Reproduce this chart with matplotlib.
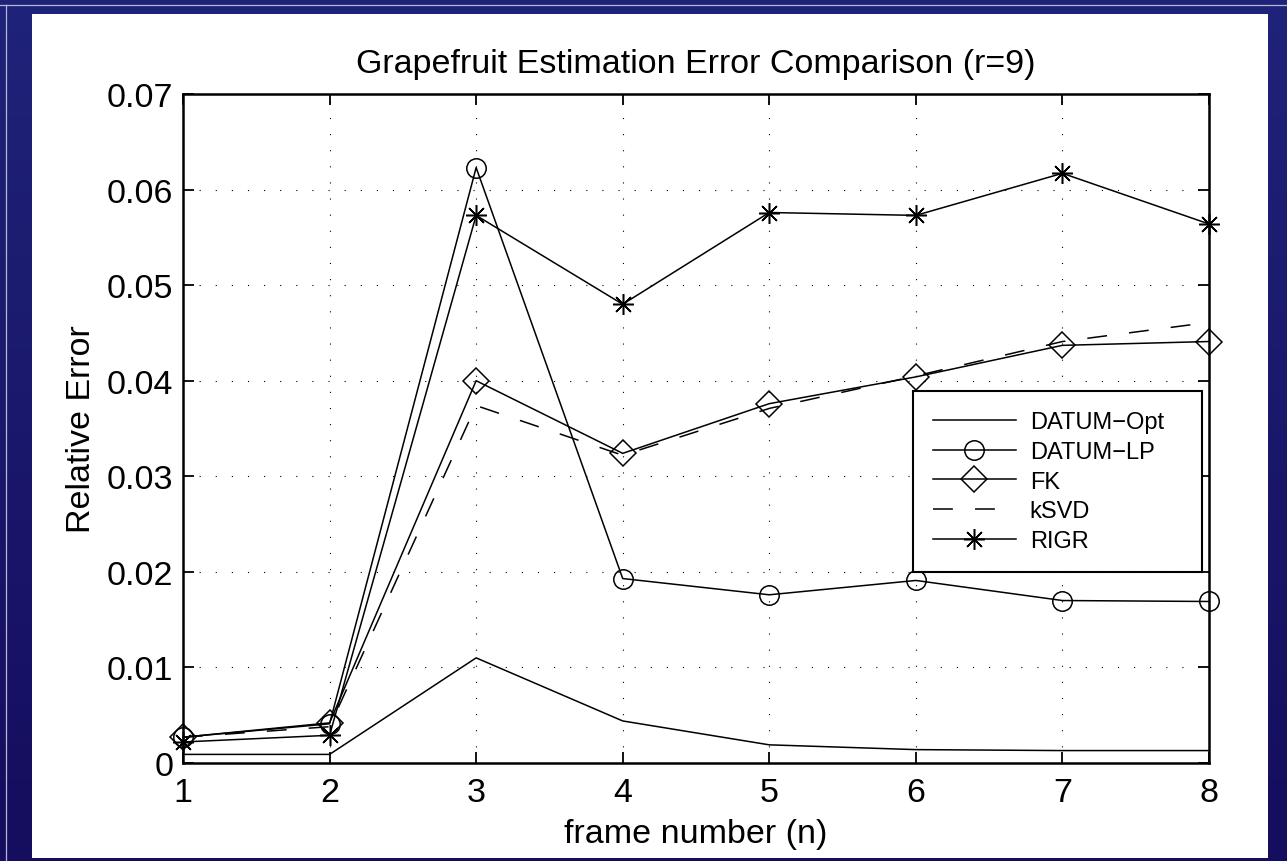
import numpy as np
import matplotlib
matplotlib.use('Agg')
import matplotlib.pyplot as plt
from matplotlib.patches import Rectangle
from matplotlib.lines import Line2D
from matplotlib.colors import LinearSegmentedColormap

plt.rcParams['font.family'] = ['Liberation Sans', 'DejaVu Sans']

frames = [1, 2, 3, 4, 5, 6, 7, 8]
datum_opt = [0.0009, 0.0009, 0.0110, 0.0044, 0.0019, 0.0014, 0.0013, 0.0013]
datum_lp = [0.0027, 0.0041, 0.0623, 0.0193, 0.0176, 0.0191, 0.0170, 0.0169]
fk = [0.0027, 0.0042, 0.0400, 0.0324, 0.0376, 0.0404, 0.0437, 0.0441]
ksvd = [0.0027, 0.0038, 0.0374, 0.0322, 0.0371, 0.0405, 0.0441, 0.0461]
rigr = [0.0022, 0.0029, 0.0573, 0.0480, 0.0576, 0.0573, 0.0617, 0.0564]
yticks = [0, 0.01, 0.02, 0.03, 0.04, 0.05, 0.06, 0.07]
ytick_labels = ['0', '0.01', '0.02', '0.03', '0.04', '0.05', '0.06', '0.07']

W, H = 1287, 862
fig = plt.figure(figsize=(W / 100, H / 100), dpi=100)

# dark blue slide background
bg = fig.add_axes([0, 0, 1, 1], zorder=-10)
grad = np.linspace(0, 1, 256).reshape(-1, 1)
cmap = LinearSegmentedColormap.from_list('bg', ['#1f2379', '#150d5e'])
bg.imshow(grad, cmap=cmap, aspect='auto', extent=[0, 1, 0, 1], origin='upper')
bg.axis('off')

fig.add_artist(Line2D([0, 1], [1 - 6 / H, 1 - 6 / H], color='#b8b8d4', lw=0.9, zorder=-4))
fig.add_artist(Line2D([6 / W, 6 / W], [0, 1 - 6 / H], color='#b8b8d4', lw=0.9, zorder=-4))
fig.add_artist(Rectangle((32 / W, 3 / H), (1268 - 32) / W, (859 - 15) / H,
                         transform=fig.transFigure, facecolor='white',
                         edgecolor='none', zorder=-5))

ax = fig.add_axes([183 / W, 1 - 764 / H, (1209 - 183) / W, (764 - 95) / H])
lw = 1.1
ax.plot(frames, datum_opt, color='k', lw=lw, label='DATUM\u2212Opt', clip_on=False)
ax.plot(frames, datum_lp, color='k', lw=lw, marker='o', ms=14, mfc='none',
        mec='k', mew=lw, label='DATUM\u2212LP', clip_on=False)
ax.plot(frames, fk, color='k', lw=lw, marker='D', ms=13.5, mfc='none',
        mec='k', mew=lw, label='FK', clip_on=False)
ax.plot(frames, ksvd, color='k', lw=lw, linestyle=(0, (13, 14.5)),
        label='kSVD', clip_on=False)
ax.plot(frames, rigr, color='k', lw=lw, marker=(8, 2, 0), ms=15,
        mec='k', mew=lw, label='RIGR', clip_on=False)

ax.set_xlim(1, 8)
ax.set_ylim(0, 0.07)
ax.set_xticks(frames)
ax.set_yticks(yticks)
ax.set_yticklabels(ytick_labels)
ax.grid(True, linestyle=(0, (1, 13.5)), color='k', lw=0.8)
ax.tick_params(direction='in', top=True, right=True, length=8, width=1.3,
               labelsize=24.5)
ax.tick_params(axis='x', pad=10)
ax.tick_params(axis='y', pad=7)
for s in ax.spines.values():
    s.set_linewidth(1.8)

ax.set_title('Grapefruit Estimation Error Comparison (r=9)', fontsize=24.5, pad=16)
ax.set_xlabel('frame number (n)', fontsize=24.5, labelpad=7)
ax.set_ylabel('Relative Error', fontsize=24.5, labelpad=7)

leg = ax.legend(loc='upper left', mode='expand',
                bbox_to_anchor=(0.7115, 0.2915, 0.2815, 0.2645),
                fontsize=17, fancybox=False, edgecolor='k', framealpha=1,
                handlelength=3.5, handletextpad=0.6, borderpad=0.85,
                labelspacing=0.33, borderaxespad=0)
leg.get_frame().set_linewidth(1.5)

fig.savefig('out.png', dpi=100)
